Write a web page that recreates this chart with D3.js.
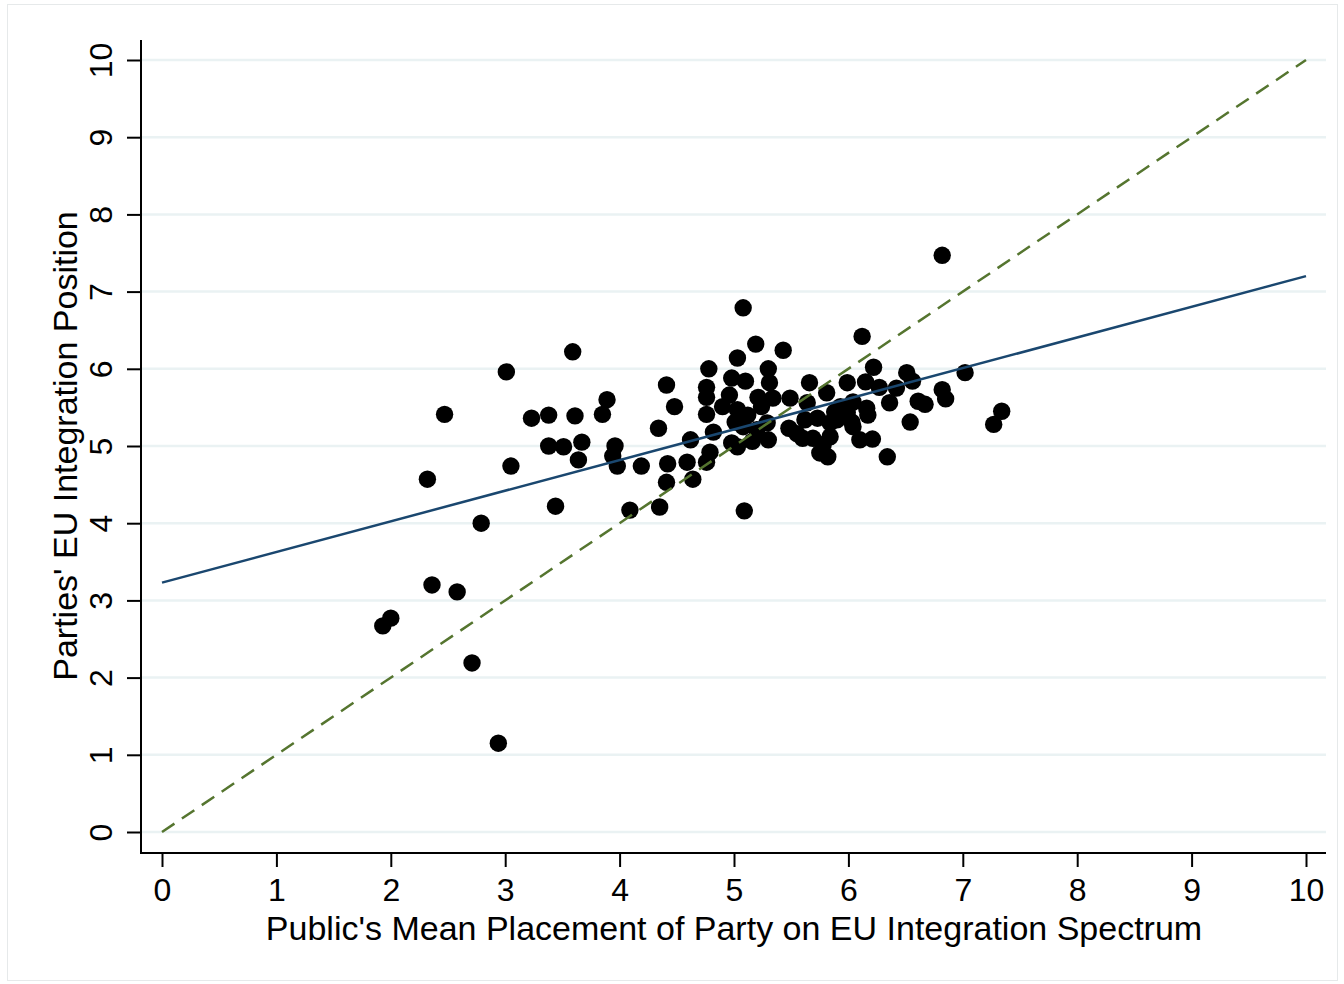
<!DOCTYPE html>
<html>
<head>
<meta charset="utf-8">
<script src="https://cdn.jsdelivr.net/npm/d3@7"></script>
<style>
  body { margin: 0; background: #fff; }
  svg text { font-family: "Liberation Sans", Arial, Helvetica, sans-serif; fill: #000; }
</style>
</head>
<body>
<svg id="chart"></svg>
<script>
// public's mean placement (x) and party position (y)
const publicPlacement = [
  1.93, 2.00, 2.32, 2.36, 2.47, 2.58, 2.71, 2.79, 2.94, 3.01,
  3.05, 3.23, 3.38, 3.38, 3.44, 3.51, 3.59, 3.61, 3.64, 3.67,
  3.85, 3.89, 3.96, 3.94, 3.98, 4.09, 4.19, 4.34, 4.35, 4.41,
  4.41, 4.42, 4.48, 4.59, 4.62, 4.64, 5.08, 6.12, 5.19, 5.43,
  5.03, 4.78, 5.30, 4.98, 5.10, 5.31, 5.66, 4.76, 6.22, 6.51,
  6.56, 7.02, 5.99, 6.15, 6.27, 6.42, 6.82, 6.85, 7.34, 7.27,
  6.36, 6.61, 6.67, 6.54, 6.34, 5.09, 4.76, 4.96, 4.90, 4.76,
  5.21, 5.34, 5.49, 5.81, 5.03, 5.01, 5.08, 5.29, 5.64, 5.62,
  5.73, 5.90, 5.99, 6.04, 6.16, 6.17, 5.48, 5.60, 5.69, 5.84,
  6.04, 6.10, 6.21, 4.82, 4.79, 4.76, 5.03, 5.16, 5.30, 5.75,
  5.82, 6.82, 5.12, 5.24, 5.20, 5.93, 5.84, 6.03, 4.98, 5.88,
  5.55, 5.78
];
const partyPosition = [
  2.67, 2.77, 4.57, 3.20, 5.41, 3.11, 2.19, 4.00, 1.15, 5.96,
  4.74, 5.36, 5.40, 5.00, 4.22, 4.99, 6.22, 5.39, 4.82, 5.05,
  5.41, 5.60, 5.00, 4.87, 4.74, 4.17, 4.74, 5.23, 4.21, 5.79,
  4.53, 4.77, 5.51, 4.79, 5.08, 4.57, 6.79, 6.42, 6.32, 6.24,
  6.14, 6.00, 6.00, 5.88, 5.84, 5.82, 5.82, 5.76, 6.02, 5.95,
  5.84, 5.95, 5.82, 5.83, 5.76, 5.75, 5.73, 5.61, 5.45, 5.28,
  5.56, 5.58, 5.54, 5.31, 4.86, 4.16, 5.63, 5.66, 5.51, 5.41,
  5.63, 5.62, 5.62, 5.69, 5.47, 5.31, 5.25, 5.30, 5.56, 5.34,
  5.36, 5.34, 5.43, 5.57, 5.49, 5.40, 5.23, 5.10, 5.10, 5.12,
  5.25, 5.08, 5.09, 5.18, 4.92, 4.79, 4.99, 5.06, 5.08, 4.91,
  4.86, 7.47, 5.40, 5.51, 5.21, 5.51, 5.30, 5.31, 5.04, 5.44,
  5.16, 5.02
];
const fitLine = [[0, 3.23], [10, 7.20]];
const equalLine = [[0, 0], [10, 10]];
const xTicks = [0, 1, 2, 3, 4, 5, 6, 7, 8, 9, 10];
const yTicks = [0, 1, 2, 3, 4, 5, 6, 7, 8, 9, 10];

const W = 1344, H = 984;
const svg = d3.select('#chart').attr('width', W).attr('height', H);

svg.append('rect')
  .attr('x', 7.5).attr('y', 4.5)
  .attr('width', W - 14).attr('height', H - 8)
  .attr('fill', '#fff').attr('stroke', '#e6e9ea');

const x = d3.scaleLinear().domain([0, 10]).range([162, 1306]);
const y = d3.scaleLinear().domain([0, 10]).range([832, 60]);
const axisLeft = 141, axisBottom = 853, plotRight = 1326, plotTop = 40;

// grid
svg.append('g')
  .selectAll('line')
  .data(yTicks)
  .join('line')
  .attr('x1', axisLeft).attr('x2', plotRight)
  .attr('y1', d => y(d)).attr('y2', d => y(d))
  .attr('stroke', '#eaf2f3').attr('stroke-width', 2.5);

// y axis
const yAxis = svg.append('g')
  .attr('transform', `translate(${axisLeft},0)`)
  .call(d3.axisLeft(y).tickValues(yTicks).tickSize(14).tickPadding(0).tickFormat(d3.format('d')));
yAxis.select('.domain').remove();
yAxis.selectAll('.tick line').attr('stroke', '#000').attr('stroke-width', 2);
yAxis.selectAll('.tick text')
  .attr('font-size', 32)
  .attr('transform', 'translate(-40,0) rotate(-90)')
  .attr('x', 0).attr('y', 0)
  .attr('dy', '0.35em')
  .attr('text-anchor', 'middle');

// x axis
const xAxis = svg.append('g')
  .attr('transform', `translate(0,${axisBottom})`)
  .call(d3.axisBottom(x).tickValues(xTicks).tickSize(14).tickPadding(11).tickFormat(d3.format('d')));
xAxis.select('.domain').remove();
xAxis.selectAll('.tick line').attr('stroke', '#000').attr('stroke-width', 2);
xAxis.selectAll('.tick text').attr('font-size', 32);

svg.append('line')
  .attr('x1', axisLeft).attr('x2', axisLeft)
  .attr('y1', plotTop).attr('y2', axisBottom + 1)
  .attr('stroke', '#000').attr('stroke-width', 2);
svg.append('line')
  .attr('x1', axisLeft - 1).attr('x2', plotRight)
  .attr('y1', axisBottom).attr('y2', axisBottom)
  .attr('stroke', '#000').attr('stroke-width', 2);

// points
svg.append('g')
  .selectAll('circle')
  .data(publicPlacement.map((v, i) => [v, partyPosition[i]]))
  .join('circle')
  .attr('cx', d => x(d[0]))
  .attr('cy', d => y(d[1]))
  .attr('r', 8.7)
  .attr('fill', '#000');

const line = d3.line().x(d => x(d[0])).y(d => y(d[1]));

svg.append('path')
  .attr('d', line(fitLine))
  .attr('fill', 'none')
  .attr('stroke', '#1a476f')
  .attr('stroke-width', 2.5);

svg.append('path')
  .attr('d', line(equalLine))
  .attr('fill', 'none')
  .attr('stroke', '#55752f')
  .attr('stroke-width', 2.5)
  .attr('stroke-dasharray', '15,9');

// titles
svg.append('text')
  .attr('x', 734).attr('y', 940)
  .attr('text-anchor', 'middle')
  .attr('font-size', 34)
  .text("Public's Mean Placement of Party on EU Integration Spectrum");

svg.append('text')
  .attr('transform', 'translate(77,446) rotate(-90)')
  .attr('text-anchor', 'middle')
  .attr('font-size', 34)
  .text("Parties' EU Integration Position");
</script>
</body>
</html>
